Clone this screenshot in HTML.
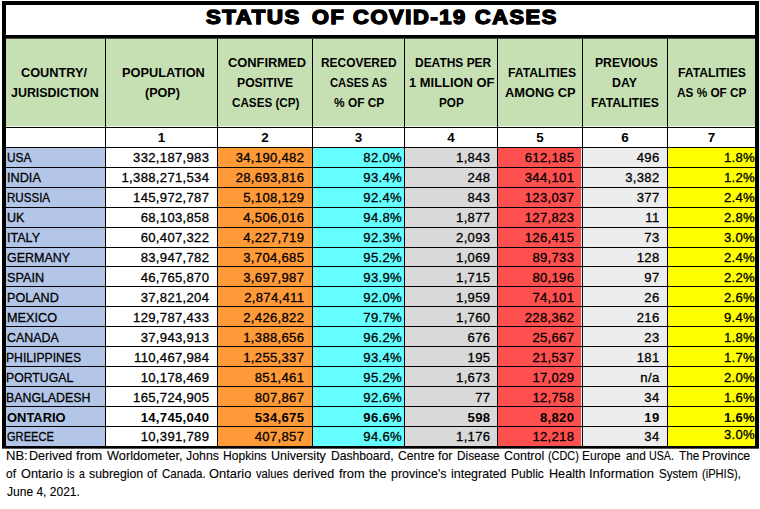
<!DOCTYPE html>
<html><head><meta charset="utf-8"><title>Status of COVID-19 Cases</title>
<style>
html,body{margin:0;padding:0;background:#fff;}
body{width:760px;height:509px;position:relative;overflow:hidden;font-family:"Liberation Sans",sans-serif;color:#000;}
.b{position:absolute;background:#000;}
.c{position:absolute;}
.x{position:absolute;white-space:nowrap;line-height:20px;height:20px;transform-origin:0 50%;display:block;}
.t{position:absolute;white-space:nowrap;line-height:20px;height:20px;font-size:13.1px;letter-spacing:0.31px;text-align:right;}
.n{position:absolute;text-align:center;font-weight:bold;font-size:13.4px;line-height:20px;height:20px;}
.bold{font-weight:bold;}
.t,.rg{-webkit-text-stroke:0.3px #000;}
.t.bold{-webkit-text-stroke:0;}
.fb{-webkit-text-stroke:0.6px #000;}
.t.fb{-webkit-text-stroke:0.6px #000;}
.ft{-webkit-text-stroke:0.12px #000;}
.ttl{-webkit-text-stroke:1.3px #000;text-shadow:0.5px 0 0 #000,-0.5px 0 0 #000;}

</style></head><body>
<div class="c" style="left:6px;top:39px;width:99px;height:88px;background:#c6e0b4"></div>
<div class="c" style="left:6px;top:148px;width:99px;height:298px;background:#b4c6e7"></div>
<div class="c" style="left:106px;top:39px;width:111px;height:88px;background:#c6e0b4"></div>
<div class="c" style="left:106px;top:148px;width:111px;height:298px;background:#ffffff"></div>
<div class="c" style="left:218px;top:39px;width:94px;height:88px;background:#c6e0b4"></div>
<div class="c" style="left:218px;top:148px;width:94px;height:298px;background:#ff9a38"></div>
<div class="c" style="left:313px;top:39px;width:91px;height:88px;background:#c6e0b4"></div>
<div class="c" style="left:313px;top:148px;width:91px;height:298px;background:#66ffff"></div>
<div class="c" style="left:405px;top:39px;width:92px;height:88px;background:#c6e0b4"></div>
<div class="c" style="left:405px;top:148px;width:92px;height:298px;background:#d9d9d9"></div>
<div class="c" style="left:498px;top:39px;width:84px;height:88px;background:#c6e0b4"></div>
<div class="c" style="left:498px;top:148px;width:84px;height:298px;background:#ff5050"></div>
<div class="c" style="left:583px;top:39px;width:84px;height:88px;background:#c6e0b4"></div>
<div class="c" style="left:583px;top:148px;width:84px;height:298px;background:#ededed"></div>
<div class="c" style="left:668px;top:39px;width:87px;height:88px;background:#c6e0b4"></div>
<div class="c" style="left:668px;top:148px;width:87px;height:298px;background:#ffff00"></div>
<div class="c" style="left:581px;top:148px;width:1px;height:298px;background:#f0e6e6"></div>
<div class="c" style="left:6px;top:126px;width:749px;height:1px;background:#f2f8ee"></div>
<div class="b" style="left:2px;top:1px;width:757px;height:4px"></div>
<div class="b" style="left:2px;top:1px;width:4px;height:447px"></div>
<div class="b" style="left:755px;top:1px;width:4px;height:447px"></div>
<div class="b" style="left:2px;top:446px;width:757px;height:2px"></div>
<div class="c" style="left:2px;top:448px;width:757px;height:1px;background:#555"></div>
<div class="b" style="left:2px;top:35px;width:757px;height:3px"></div>
<div class="c" style="left:6px;top:38px;width:749px;height:1px;background:#4a4f45"></div>
<div class="b" style="left:105px;top:39px;width:1px;height:407px"></div>
<div class="b" style="left:217px;top:39px;width:1px;height:407px"></div>
<div class="b" style="left:312px;top:39px;width:1px;height:407px"></div>
<div class="b" style="left:404px;top:39px;width:1px;height:407px"></div>
<div class="b" style="left:497px;top:39px;width:1px;height:407px"></div>
<div class="b" style="left:582px;top:39px;width:1px;height:407px"></div>
<div class="b" style="left:667px;top:39px;width:1px;height:407px"></div>
<div class="b" style="left:6px;top:127px;width:749px;height:1px"></div>
<div class="b" style="left:6px;top:147px;width:749px;height:1px"></div>
<div class="b" style="left:6px;top:167px;width:749px;height:1px"></div>
<div class="b" style="left:6px;top:187px;width:749px;height:1px"></div>
<div class="b" style="left:6px;top:207px;width:749px;height:1px"></div>
<div class="b" style="left:6px;top:227px;width:749px;height:1px"></div>
<div class="b" style="left:6px;top:247px;width:749px;height:1px"></div>
<div class="b" style="left:6px;top:266px;width:749px;height:1px"></div>
<div class="b" style="left:6px;top:286px;width:749px;height:1px"></div>
<div class="b" style="left:6px;top:306px;width:749px;height:1px"></div>
<div class="b" style="left:6px;top:326px;width:749px;height:1px"></div>
<div class="b" style="left:6px;top:346px;width:749px;height:1px"></div>
<div class="b" style="left:6px;top:366px;width:749px;height:1px"></div>
<div class="b" style="left:6px;top:386px;width:749px;height:1px"></div>
<div class="b" style="left:6px;top:406px;width:749px;height:1px"></div>
<div class="b" style="left:6px;top:426px;width:749px;height:1px"></div>
<span class="x ttl" style="left:205.90px;top:6.81px;font-size:20.6px;font-weight:bold;transform:scaleX(1.0735);letter-spacing:1.5px;">STATUS</span>
<span class="x ttl" style="left:312.40px;top:6.81px;font-size:20.6px;font-weight:bold;transform:scaleX(1.0529);letter-spacing:1.5px;">OF</span>
<span class="x ttl" style="left:353.40px;top:6.81px;font-size:20.6px;font-weight:bold;transform:scaleX(1.0644);letter-spacing:1.5px;">COVID-19</span>
<span class="x ttl" style="left:474.80px;top:6.81px;font-size:20.6px;font-weight:bold;transform:scaleX(1.0547);letter-spacing:1.5px;">CASES</span>
<span class="x" style="left:20.80px;top:62.60px;font-size:13px;font-weight:bold;transform:scaleX(0.9794);">COUNTRY/</span>
<span class="x" style="left:10.90px;top:82.60px;font-size:13px;font-weight:bold;transform:scaleX(0.9558);">JURISDICTION</span>
<span class="x" style="left:122.10px;top:62.60px;font-size:13px;font-weight:bold;transform:scaleX(0.9825);">POPULATION</span>
<span class="x" style="left:144.50px;top:82.60px;font-size:13px;font-weight:bold;transform:scaleX(0.9669);">(POP)</span>
<span class="x" style="left:228.20px;top:52.60px;font-size:13px;font-weight:bold;transform:scaleX(0.9907);">CONFIRMED</span>
<span class="x" style="left:237.40px;top:72.90px;font-size:13px;font-weight:bold;transform:scaleX(0.9372);">POSITIVE</span>
<span class="x" style="left:231.80px;top:92.90px;font-size:13px;font-weight:bold;transform:scaleX(0.8972);">CASES (CP)</span>
<span class="x" style="left:321.20px;top:52.60px;font-size:13px;font-weight:bold;transform:scaleX(0.9175);">RECOVERED</span>
<span class="x" style="left:330.10px;top:72.90px;font-size:13px;font-weight:bold;transform:scaleX(0.8654);">CASES AS</span>
<span class="x" style="left:333.70px;top:92.90px;font-size:13px;font-weight:bold;transform:scaleX(0.9163);">% OF CP</span>
<span class="x" style="left:414.90px;top:52.60px;font-size:13px;font-weight:bold;transform:scaleX(0.9205);">DEATHS PER</span>
<span class="x" style="left:408.60px;top:72.90px;font-size:13px;font-weight:bold;transform:scaleX(0.9942);">1 MILLION OF</span>
<span class="x" style="left:438.60px;top:92.90px;font-size:13px;font-weight:bold;transform:scaleX(0.8998);">POP</span>
<span class="x" style="left:507.50px;top:62.60px;font-size:13px;font-weight:bold;transform:scaleX(0.9397);">FATALITIES</span>
<span class="x" style="left:504.50px;top:82.60px;font-size:13px;font-weight:bold;transform:scaleX(0.9885);">AMONG CP</span>
<span class="x" style="left:594.80px;top:52.60px;font-size:13px;font-weight:bold;transform:scaleX(0.9361);">PREVIOUS</span>
<span class="x" style="left:612.20px;top:72.90px;font-size:13px;font-weight:bold;transform:scaleX(0.9517);">DAY</span>
<span class="x" style="left:590.50px;top:92.90px;font-size:13px;font-weight:bold;transform:scaleX(0.9370);">FATALITIES</span>
<span class="x" style="left:678.20px;top:62.60px;font-size:13px;font-weight:bold;transform:scaleX(0.9370);">FATALITIES</span>
<span class="x" style="left:677.40px;top:82.60px;font-size:13px;font-weight:bold;transform:scaleX(0.9064);">AS % OF CP</span>
<div class="n" style="left:106px;width:111px;top:128px">1</div>
<div class="n" style="left:218px;width:94px;top:128px">2</div>
<div class="n" style="left:313px;width:91px;top:128px">3</div>
<div class="n" style="left:405px;width:92px;top:128px">4</div>
<div class="n" style="left:498px;width:84px;top:128px">5</div>
<div class="n" style="left:583px;width:84px;top:128px">6</div>
<div class="n" style="left:668px;width:87px;top:128px">7</div>
<span class="x rg" style="left:6.63px;top:148.00px;font-size:13.65px;transform:scaleX(0.8677);">USA</span>
<div class="t" style="left:106px;width:103.3px;top:148px">332,187,983</div>
<div class="t" style="left:218px;width:86.3px;top:148px">34,190,482</div>
<div class="t" style="left:313px;width:89px;top:148px">82.0%</div>
<div class="t" style="left:405px;width:85.4px;top:148px">1,843</div>
<div class="t" style="left:498px;width:76.3px;top:148px">612,185</div>
<div class="t" style="left:583px;width:76.5px;top:148px">496</div>
<div class="t" style="left:668px;width:87px;top:148px">1.8%</div>
<span class="x rg" style="left:6.57px;top:168.00px;font-size:13.65px;transform:scaleX(0.9302);">INDIA</span>
<div class="t" style="left:106px;width:103.3px;top:168px">1,388,271,534</div>
<div class="t" style="left:218px;width:86.3px;top:168px">28,693,816</div>
<div class="t" style="left:313px;width:89px;top:168px">93.4%</div>
<div class="t" style="left:405px;width:85.4px;top:168px">248</div>
<div class="t" style="left:498px;width:76.3px;top:168px">344,101</div>
<div class="t" style="left:583px;width:76.5px;top:168px">3,382</div>
<div class="t" style="left:668px;width:87px;top:168px">1.2%</div>
<span class="x rg" style="left:6.65px;top:188.00px;font-size:13.65px;transform:scaleX(0.8483);">RUSSIA</span>
<div class="t" style="left:106px;width:103.3px;top:188px">145,972,787</div>
<div class="t" style="left:218px;width:86.3px;top:188px">5,108,129</div>
<div class="t" style="left:313px;width:89px;top:188px">92.4%</div>
<div class="t" style="left:405px;width:85.4px;top:188px">843</div>
<div class="t" style="left:498px;width:76.3px;top:188px">123,037</div>
<div class="t" style="left:583px;width:76.5px;top:188px">377</div>
<div class="t" style="left:668px;width:87px;top:188px">2.4%</div>
<span class="x rg" style="left:6.58px;top:208.00px;font-size:13.65px;transform:scaleX(0.9243);">UK</span>
<div class="t" style="left:106px;width:103.3px;top:208px">68,103,858</div>
<div class="t" style="left:218px;width:86.3px;top:208px">4,506,016</div>
<div class="t" style="left:313px;width:89px;top:208px">94.8%</div>
<div class="t" style="left:405px;width:85.4px;top:208px">1,877</div>
<div class="t" style="left:498px;width:76.3px;top:208px">127,823</div>
<div class="t" style="left:583px;width:76.5px;top:208px">11</div>
<div class="t" style="left:668px;width:87px;top:208px">2.8%</div>
<span class="x rg" style="left:6.58px;top:228.00px;font-size:13.65px;transform:scaleX(0.9201);">ITALY</span>
<div class="t" style="left:106px;width:103.3px;top:228px">60,407,322</div>
<div class="t" style="left:218px;width:86.3px;top:228px">4,227,719</div>
<div class="t" style="left:313px;width:89px;top:228px">92.3%</div>
<div class="t" style="left:405px;width:85.4px;top:228px">2,093</div>
<div class="t" style="left:498px;width:76.3px;top:228px">126,415</div>
<div class="t" style="left:583px;width:76.5px;top:228px">73</div>
<div class="t" style="left:668px;width:87px;top:228px">3.0%</div>
<span class="x rg" style="left:7.00px;top:248.00px;font-size:13.65px;transform:scaleX(0.9148);">GERMANY</span>
<div class="t" style="left:106px;width:103.3px;top:248px">83,947,782</div>
<div class="t" style="left:218px;width:86.3px;top:248px">3,704,685</div>
<div class="t" style="left:313px;width:89px;top:248px">95.2%</div>
<div class="t" style="left:405px;width:85.4px;top:248px">1,069</div>
<div class="t" style="left:498px;width:76.3px;top:248px">89,733</div>
<div class="t" style="left:583px;width:76.5px;top:248px">128</div>
<div class="t" style="left:668px;width:87px;top:248px">2.4%</div>
<span class="x rg" style="left:6.75px;top:268.00px;font-size:13.65px;transform:scaleX(0.9278);">SPAIN</span>
<div class="t" style="left:106px;width:103.3px;top:268px">46,765,870</div>
<div class="t" style="left:218px;width:86.3px;top:268px">3,697,987</div>
<div class="t" style="left:313px;width:89px;top:268px">93.9%</div>
<div class="t" style="left:405px;width:85.4px;top:268px">1,715</div>
<div class="t" style="left:498px;width:76.3px;top:268px">80,196</div>
<div class="t" style="left:583px;width:76.5px;top:268px">97</div>
<div class="t" style="left:668px;width:87px;top:268px">2.2%</div>
<span class="x rg" style="left:6.58px;top:288.00px;font-size:13.65px;transform:scaleX(0.9232);">POLAND</span>
<div class="t" style="left:106px;width:103.3px;top:288px">37,821,204</div>
<div class="t" style="left:218px;width:86.3px;top:288px">2,874,411</div>
<div class="t" style="left:313px;width:89px;top:288px">92.0%</div>
<div class="t" style="left:405px;width:85.4px;top:288px">1,959</div>
<div class="t" style="left:498px;width:76.3px;top:288px">74,101</div>
<div class="t" style="left:583px;width:76.5px;top:288px">26</div>
<div class="t" style="left:668px;width:87px;top:288px">2.6%</div>
<span class="x rg" style="left:6.57px;top:308.00px;font-size:13.65px;transform:scaleX(0.9291);">MEXICO</span>
<div class="t" style="left:106px;width:103.3px;top:308px">129,787,433</div>
<div class="t" style="left:218px;width:86.3px;top:308px">2,426,822</div>
<div class="t" style="left:313px;width:89px;top:308px">79.7%</div>
<div class="t" style="left:405px;width:85.4px;top:308px">1,760</div>
<div class="t" style="left:498px;width:76.3px;top:308px">228,362</div>
<div class="t" style="left:583px;width:76.5px;top:308px">216</div>
<div class="t" style="left:668px;width:87px;top:308px">9.4%</div>
<span class="x rg" style="left:7.00px;top:328.00px;font-size:13.65px;transform:scaleX(0.9091);">CANADA</span>
<div class="t" style="left:106px;width:103.3px;top:328px">37,943,913</div>
<div class="t" style="left:218px;width:86.3px;top:328px">1,388,656</div>
<div class="t" style="left:313px;width:89px;top:328px">96.2%</div>
<div class="t" style="left:405px;width:85.4px;top:328px">676</div>
<div class="t" style="left:498px;width:76.3px;top:328px">25,667</div>
<div class="t" style="left:583px;width:76.5px;top:328px">23</div>
<div class="t" style="left:668px;width:87px;top:328px">1.8%</div>
<span class="x rg" style="left:6.31px;top:348.00px;font-size:13.65px;transform:scaleX(0.8916);">PHILIPPINES</span>
<div class="t" style="left:106px;width:103.3px;top:348px">110,467,984</div>
<div class="t" style="left:218px;width:86.3px;top:348px">1,255,337</div>
<div class="t" style="left:313px;width:89px;top:348px">93.4%</div>
<div class="t" style="left:405px;width:85.4px;top:348px">195</div>
<div class="t" style="left:498px;width:76.3px;top:348px">21,537</div>
<div class="t" style="left:583px;width:76.5px;top:348px">181</div>
<div class="t" style="left:668px;width:87px;top:348px">1.7%</div>
<span class="x rg" style="left:6.40px;top:368.00px;font-size:13.65px;transform:scaleX(0.8989);">PORTUGAL</span>
<div class="t" style="left:106px;width:103.3px;top:368px">10,178,469</div>
<div class="t" style="left:218px;width:86.3px;top:368px">851,461</div>
<div class="t" style="left:313px;width:89px;top:368px">95.2%</div>
<div class="t" style="left:405px;width:85.4px;top:368px">1,673</div>
<div class="t" style="left:498px;width:76.3px;top:368px">17,029</div>
<div class="t" style="left:583px;width:76.5px;top:368px">n/a</div>
<div class="t" style="left:668px;width:87px;top:368px">2.0%</div>
<span class="x rg" style="left:6.40px;top:388.00px;font-size:13.65px;transform:scaleX(0.9049);">BANGLADESH</span>
<div class="t" style="left:106px;width:103.3px;top:388px">165,724,905</div>
<div class="t" style="left:218px;width:86.3px;top:388px">807,867</div>
<div class="t" style="left:313px;width:89px;top:388px">92.6%</div>
<div class="t" style="left:405px;width:85.4px;top:388px">77</div>
<div class="t" style="left:498px;width:76.3px;top:388px">12,758</div>
<div class="t" style="left:583px;width:76.5px;top:388px">34</div>
<div class="t" style="left:668px;width:87px;top:388px">1.6%</div>
<span class="x" style="left:7.00px;top:408.00px;font-size:13.65px;font-weight:bold;transform:scaleX(0.9475);">ONTARIO</span>
<div class="t bold" style="left:106px;width:103.3px;top:408px">14,745,040</div>
<div class="t bold" style="left:218px;width:86.3px;top:408px">534,675</div>
<div class="t bold" style="left:313px;width:89px;top:408px">96.6%</div>
<div class="t bold" style="left:405px;width:85.4px;top:408px">598</div>
<div class="t bold" style="left:498px;width:76.3px;top:408px">8,820</div>
<div class="t bold" style="left:583px;width:76.5px;top:408px">19</div>
<div class="t bold" style="left:668px;width:87px;top:408px">1.6%</div>
<span class="x rg" style="left:7.00px;top:427.00px;font-size:13.65px;transform:scaleX(0.8129);">GREECE</span>
<div class="t" style="left:106px;width:103.3px;top:427px">10,391,789</div>
<div class="t" style="left:218px;width:86.3px;top:427px">407,857</div>
<div class="t" style="left:313px;width:89px;top:427px">94.6%</div>
<div class="t" style="left:405px;width:85.4px;top:427px">1,176</div>
<div class="t" style="left:498px;width:76.3px;top:427px">12,218</div>
<div class="t" style="left:583px;width:76.5px;top:427px">34</div>
<div class="t" style="left:668px;width:87px;top:425px">3.0%</div>
<span class="x ft" style="left:6.11px;top:445.83px;font-size:13.2px;transform:scaleX(0.9892);">NB:</span>
<span class="x ft" style="left:29.35px;top:445.83px;font-size:13.2px;transform:scaleX(0.9522);">Derived</span>
<span class="x ft" style="left:76.10px;top:445.83px;font-size:13.2px;transform:scaleX(0.9928);">from</span>
<span class="x ft" style="left:107.10px;top:445.83px;font-size:13.2px;transform:scaleX(0.9676);">Worldometer,</span>
<span class="x ft" style="left:186.00px;top:445.83px;font-size:13.2px;transform:scaleX(0.9355);">Johns</span>
<span class="x ft" style="left:223.08px;top:445.83px;font-size:13.2px;transform:scaleX(0.9160);">Hopkins</span>
<span class="x ft" style="left:270.85px;top:445.83px;font-size:13.2px;transform:scaleX(0.9477);">University</span>
<span class="x ft" style="left:330.68px;top:445.83px;font-size:13.2px;transform:scaleX(0.9201);">Dashboard,</span>
<span class="x ft" style="left:397.60px;top:445.83px;font-size:13.2px;transform:scaleX(0.9249);">Centre</span>
<span class="x ft" style="left:438.20px;top:445.83px;font-size:13.2px;transform:scaleX(0.9378);">for</span>
<span class="x ft" style="left:457.01px;top:445.83px;font-size:13.2px;transform:scaleX(0.8940);">Disease</span>
<span class="x ft" style="left:503.70px;top:445.83px;font-size:13.2px;transform:scaleX(0.9464);">Control</span>
<span class="x ft" style="left:548.20px;top:445.83px;font-size:13.2px;transform:scaleX(0.8252);">(CDC)</span>
<span class="x ft" style="left:582.49px;top:445.83px;font-size:13.2px;transform:scaleX(0.9080);">Europe</span>
<span class="x ft" style="left:625.60px;top:445.83px;font-size:13.2px;transform:scaleX(0.8953);">and</span>
<span class="x ft" style="left:649.19px;top:445.83px;font-size:13.2px;transform:scaleX(0.8071);">USA.</span>
<span class="x ft" style="left:678.80px;top:445.83px;font-size:13.2px;transform:scaleX(0.8888);">The</span>
<span class="x ft" style="left:702.26px;top:445.83px;font-size:13.2px;transform:scaleX(0.9405);">Province</span>
<span class="x ft" style="left:6.45px;top:463.83px;font-size:13.2px;transform:scaleX(0.9091);">of</span>
<span class="x ft" style="left:21.30px;top:463.83px;font-size:13.2px;transform:scaleX(0.9648);">Ontario</span>
<span class="x ft" style="left:67.08px;top:463.83px;font-size:13.2px;transform:scaleX(0.8000);">is</span>
<span class="x ft" style="left:78.90px;top:463.83px;font-size:13.2px;transform:scaleX(0.8000);">a</span>
<span class="x ft" style="left:88.70px;top:463.83px;font-size:13.2px;transform:scaleX(0.9360);">subregion</span>
<span class="x ft" style="left:146.95px;top:463.83px;font-size:13.2px;transform:scaleX(0.9091);">of</span>
<span class="x ft" style="left:161.60px;top:463.83px;font-size:13.2px;transform:scaleX(0.8781);">Canada.</span>
<span class="x ft" style="left:209.30px;top:463.83px;font-size:13.2px;transform:scaleX(0.9788);">Ontario</span>
<span class="x ft" style="left:255.60px;top:463.83px;font-size:13.2px;transform:scaleX(0.8514);">values</span>
<span class="x ft" style="left:293.20px;top:463.83px;font-size:13.2px;transform:scaleX(0.9507);">derived</span>
<span class="x ft" style="left:338.70px;top:463.83px;font-size:13.2px;transform:scaleX(0.9739);">from</span>
<span class="x ft" style="left:368.56px;top:463.83px;font-size:13.2px;transform:scaleX(0.9658);">the</span>
<span class="x ft" style="left:390.60px;top:463.83px;font-size:13.2px;transform:scaleX(0.9417);">province's</span>
<span class="x ft" style="left:451.30px;top:463.83px;font-size:13.2px;transform:scaleX(0.9465);">integrated</span>
<span class="x ft" style="left:511.49px;top:463.83px;font-size:13.2px;transform:scaleX(0.9144);">Public</span>
<span class="x ft" style="left:548.84px;top:463.83px;font-size:13.2px;transform:scaleX(0.9569);">Health</span>
<span class="x ft" style="left:589.22px;top:463.83px;font-size:13.2px;transform:scaleX(0.9840);">Information</span>
<span class="x ft" style="left:658.50px;top:463.83px;font-size:13.2px;transform:scaleX(0.8799);">System</span>
<span class="x ft" style="left:701.90px;top:463.83px;font-size:13.2px;transform:scaleX(0.8419);">(iPHIS),</span>
<span class="x ft" style="left:6.60px;top:481.93px;font-size:13.2px;transform:scaleX(0.9122);">June 4, 2021.</span>
</body></html>
